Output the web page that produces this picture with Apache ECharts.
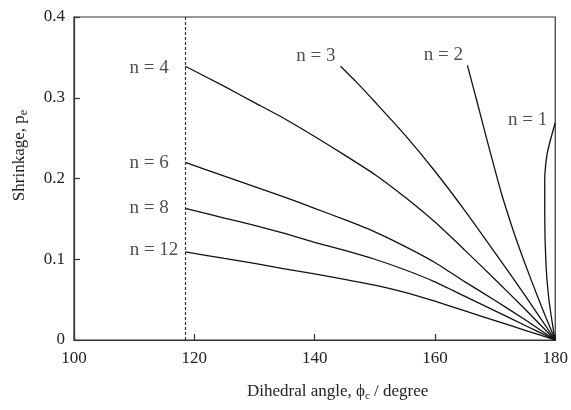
<!DOCTYPE html>
<html>
<head>
<meta charset="utf-8">
<script src="https://cdn.jsdelivr.net/npm/echarts@6/dist/echarts.min.js"></script>
<style>
  html, body { margin: 0; padding: 0; background: #fff; }
  #chart { width: 571px; height: 410px; }
</style>
</head>
<body>
<div id="chart"></div>
<script>
// curve data: dihedral angle (deg) vs shrinkage
const n4Angle = [118.5, 125, 130, 135, 140, 145, 150, 155, 160, 165, 170, 175, 180];
const n4Shrink = [0.339, 0.314, 0.294, 0.274, 0.252, 0.229, 0.205, 0.177, 0.146, 0.111, 0.075, 0.038, 0];

const n6Angle = [118.5, 125, 130, 135, 140, 145, 150, 155, 160, 165, 170, 175, 180];
const n6Shrink = [0.220, 0.203, 0.190, 0.177, 0.163, 0.149, 0.134, 0.116, 0.096, 0.072, 0.049, 0.025, 0];

const n8Angle = [118.5, 125, 130, 135, 140, 145, 150, 155, 160, 165, 170, 175, 180];
const n8Shrink = [0.163, 0.151, 0.142, 0.132, 0.121, 0.111, 0.100, 0.087, 0.072, 0.054, 0.036, 0.018, 0];

const n12Angle = [118.5, 125, 130, 135, 140, 145, 150, 155, 160, 165, 170, 175, 180];
const n12Shrink = [0.109, 0.101, 0.095, 0.088, 0.082, 0.075, 0.068, 0.059, 0.048, 0.036, 0.024, 0.012, 0];

const n3Angle = [144.3, 147, 150, 155, 160, 165, 170, 175, 180];
const n3Shrink = [0.339, 0.319, 0.295, 0.254, 0.209, 0.160, 0.108, 0.055, 0];

const n2Angle = [165.4, 167, 169, 171, 173, 175, 177, 178.5, 180];
const n2Shrink = [0.340, 0.295, 0.238, 0.183, 0.136, 0.094, 0.055, 0.027, 0];

const n1Angle = [180, 178.9, 178.5, 178.25, 178.25, 178.45, 178.9, 179.7, 180];
const n1Shrink = [0.269, 0.239, 0.223, 0.198, 0.157, 0.095, 0.053, 0.012, 0];

// dashed limit line
const limitAngle = 118.5;

// curve labels
const labelText = ['n = 4', 'n = 6', 'n = 8', 'n = 12', 'n = 3', 'n = 2', 'n = 1'];
const labelAngle = [112.5, 112.5, 112.5, 113.3, 140.2, 161.4, 175.4];
const labelShrink = [0.337, 0.219, 0.1635, 0.1115, 0.352, 0.353, 0.272];

const zip = (xs, ys) => xs.map((x, i) => [x, ys[i]]);

const font = '"Liberation Serif", "DejaVu Serif", serif';
const lineColor = '#111';

const curve = (name, xs, ys, smooth) => ({
  name: name,
  type: 'line',
  data: zip(xs, ys),
  showSymbol: false,
  smooth: smooth || false,
  lineStyle: { color: lineColor, width: 1.3 },
  silent: true
});

const chart = echarts.init(document.getElementById('chart'));

const option = {
  animation: false,
  backgroundColor: '#fff',
  grid: {
    left: 74,
    right: 13,
    top: 17,
    bottom: 70,
    show: true,
    borderColor: '#333',
    borderWidth: 1.2
  },
  xAxis: {
    type: 'value',
    min: 100,
    max: 180,
    interval: 20,
    splitLine: { show: false },
    axisLine: { lineStyle: { color: '#333', width: 1.2 } },
    axisTick: { inside: true, length: 6, lineStyle: { color: '#333', width: 1.2 } },
    axisLabel: { color: '#222', fontFamily: font, fontSize: 17, margin: 10 },
    name: '{a|Dihedral angle, ϕ}{s|c}{a| / degree}',
    nameLocation: 'middle',
    nameGap: 42,
    nameTextStyle: {
      padding: [0, 0, 0, 46],
      rich: {
        a: { color: '#222', fontFamily: font, fontSize: 17 },
        s: { color: '#222', fontFamily: font, fontSize: 11, padding: [9, 0, 0, 0] }
      }
    }
  },
  yAxis: {
    type: 'value',
    min: 0,
    max: 0.4,
    interval: 0.1,
    splitLine: { show: false },
    axisLine: { lineStyle: { color: '#333', width: 1.2 } },
    axisTick: { inside: true, length: 6, lineStyle: { color: '#333', width: 1.2 } },
    axisLabel: { color: '#222', fontFamily: font, fontSize: 17, margin: 9 },
    name: '{a|Shrinkage, p}{s|e}',
    nameLocation: 'middle',
    nameGap: 44,
    nameTextStyle: {
      padding: [0, 0, 0, 46],
      rich: {
        a: { color: '#222', fontFamily: font, fontSize: 17 },
        s: { color: '#222', fontFamily: font, fontSize: 12, padding: [9, 0, 0, 0] }
      }
    }
  },
  series: [
    Object.assign(curve('n4', n4Angle, n4Shrink, 0.2), {
      markLine: {
        silent: true,
        symbol: 'none',
        label: { show: false },
        lineStyle: { color: '#333', type: [3, 2], width: 1.2 },
        data: [{ xAxis: limitAngle }]
      }
    }),
    curve('n6', n6Angle, n6Shrink, 0.2),
    curve('n8', n8Angle, n8Shrink, 0.2),
    curve('n12', n12Angle, n12Shrink, 0.2),
    curve('n3', n3Angle, n3Shrink, 0.2),
    curve('n2', n2Angle, n2Shrink, 0.2),
    curve('n1', n1Angle, n1Shrink, 0.3),
    {
      name: 'labels',
      type: 'scatter',
      symbolSize: 0,
      silent: true,
      data: labelText.map((t, i) => ({ value: [labelAngle[i], labelShrink[i]], name: t })),
      label: {
        show: true,
        position: 'inside',
        formatter: p => p.name,
        color: '#222',
        fontFamily: font,
        fontSize: 19
      }
    }
  ]
};

chart.setOption(option);
</script>
</body>
</html>
